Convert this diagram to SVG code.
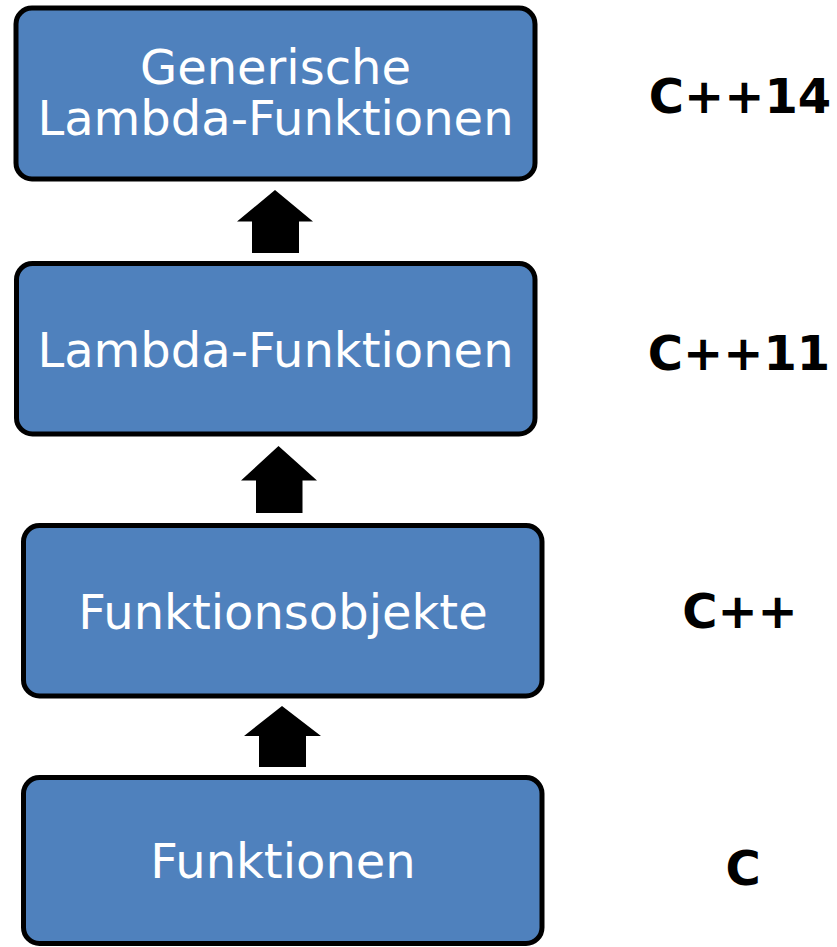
<svg xmlns="http://www.w3.org/2000/svg" width="837" height="947" viewBox="0 0 837 947">
  <style>
    .box { fill: #4F81BD; stroke: #000; stroke-width: 5; }
    .lbl { fill: #fff; font-family: "DejaVu Sans", Verdana, sans-serif; font-size: 48px; text-anchor: middle; }
    .ver { fill: #000; font-family: "DejaVu Sans", Verdana, sans-serif; font-size: 48px; font-weight: bold; text-anchor: middle; }
    .arr { fill: #000; }
  </style>
  <rect width="837" height="947" fill="#fff"/>
  <g id="n-generic">
    <rect class="box" x="16" y="8" width="519" height="171" rx="16"/>
    <text class="lbl" x="275.5" y="83.5">Generische</text>
    <text class="lbl" x="275.5" y="135">Lambda-Funktionen</text>
  </g>
  <g id="n-lambda">
    <rect class="box" x="16.5" y="263.5" width="518.5" height="170.5" rx="16"/>
    <text class="lbl" x="275.5" y="366.5">Lambda-Funktionen</text>
  </g>
  <g id="n-funktionsobjekte">
    <rect class="box" x="23.5" y="525.5" width="518.5" height="170.5" rx="16"/>
    <text class="lbl" x="283" y="628.5">Funktionsobjekte</text>
  </g>
  <g id="n-funktionen">
    <rect class="box" x="23.5" y="777.5" width="518.5" height="166" rx="16"/>
    <text class="lbl" x="283" y="878">Funktionen</text>
  </g>
  <g id="versions">
    <text class="ver" x="740" y="113">C++14</text>
    <text class="ver" x="739" y="370">C++11</text>
    <text class="ver" x="740" y="628">C++</text>
    <text class="ver" x="743" y="885">C</text>
  </g>
  <g id="connectors">
    <polygon class="arr" points="275,190 313,221.5 299,221.5 299,253 252,253 252,221.5 237,221.5"/>
    <polygon class="arr" points="278.5,446 317,480.5 302.5,480.5 302.5,513 256,513 256,480.5 241,480.5"/>
    <polygon class="arr" points="282,706 321,736 306,736 306,767 259,767 259,736 244,736"/>
  </g>
</svg>
